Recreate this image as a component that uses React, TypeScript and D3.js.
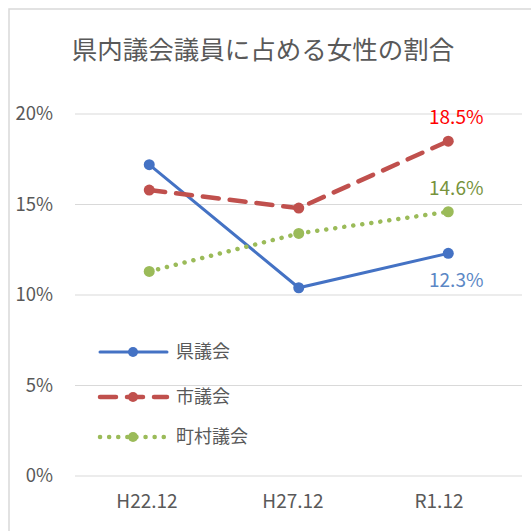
import React from "react";
import * as d3 from "d3";

const categories = ["H22.12", "H27.12", "R1.12"];
const seriesNames = ["県議会", "市議会", "町村議会"];
const kenValues = [17.2, 10.4, 12.3];
const shiValues = [15.8, 14.8, 18.5];
const chosonValues = [11.3, 13.4, 14.6];
const yTicks = [0, 5, 10, 15, 20];
const title = "県内議会議員に占める女性の割合";

const FONT = "'Noto Sans CJK JP', 'Open Sans', sans-serif";

export default function App() {
  const W = 531, H = 531;
  const x = d3.scaleBand<string>().domain(categories).range([74.5, 523]);
  const xLabel = d3.scalePoint<string>().domain(categories).range([147, 439]);
  const y = d3.scaleLinear().domain([0, 20]).range([476, 114]);
  const cx = (c: string) => (x(c) as number) + x.bandwidth() / 2;

  const series = [
    { name: seriesNames[0], values: kenValues, color: "#4472C4", dash: "", width: 3, label: "#5B87C5", labelDy: 27 },
    { name: seriesNames[1], values: shiValues, color: "#C0504D", dash: "16,11", width: 4.5, label: "#FF0000", labelDy: -24 },
    { name: seriesNames[2], values: chosonValues, color: "#9BBB59", dash: "0.1,9", width: 4.5, label: "#77933C", labelDy: -23 },
  ];

  const line = d3.line<number>().x((_, i) => cx(categories[i])).y((d) => y(d));
  const legendY = [352, 397, 437];

  return (
    <svg width={W} height={H} style={{ position: "absolute", left: 0, top: 0, background: "#fff" }}>
      <rect x={9} y={9} width={600} height={600} fill="#fff" stroke="#D9D9D9" strokeWidth={1.5} />
      <text x={263} y={59} textAnchor="middle" fontFamily={FONT} fontSize={25.5} fill="#595959">{title}</text>
      {yTicks.map((t) => (
        <g key={t}>
          <line x1={75} x2={522} y1={y(t)} y2={y(t)} stroke="#D9D9D9" strokeWidth={1} />
          <text x={53} y={y(t)} dy="0.35em" textAnchor="end" fontFamily={FONT} fontSize={18.5} fill="#595959">{t}%</text>
        </g>
      ))}
      {categories.map((c) => (
        <text key={c} x={xLabel(c)} y={508} textAnchor="middle" fontFamily={FONT} fontSize={19} fill="#595959">{c}</text>
      ))}
      {series.map((s) => (
        <g key={s.name}>
          <path d={line(s.values) || ""} fill="none" stroke={s.color} strokeWidth={s.width} strokeDasharray={s.dash || undefined} strokeLinecap="round" />
          {s.values.map((v, i) => (
            <circle key={i} cx={cx(categories[i])} cy={y(v)} r={5.5} fill={s.color} />
          ))}
          <text x={cx(categories[2]) + 8} y={y(s.values[2]) + s.labelDy} dy="0.35em" textAnchor="middle" fontFamily={FONT} fontSize={19} fill={s.label}>
            {s.values[2].toFixed(1)}%
          </text>
        </g>
      ))}
      {series.map((s, i) => (
        <g key={"lg" + s.name}>
          <line x1={100} x2={167} y1={legendY[i]} y2={legendY[i]} stroke={s.color} strokeWidth={s.width} strokeDasharray={s.dash || undefined} strokeLinecap="round" />
          <circle cx={133} cy={legendY[i]} r={5} fill={s.color} />
          <text x={176} y={legendY[i]} dy="0.35em" fontFamily={FONT} fontSize={18} fill="#595959">{s.name}</text>
        </g>
      ))}
    </svg>
  );
}
